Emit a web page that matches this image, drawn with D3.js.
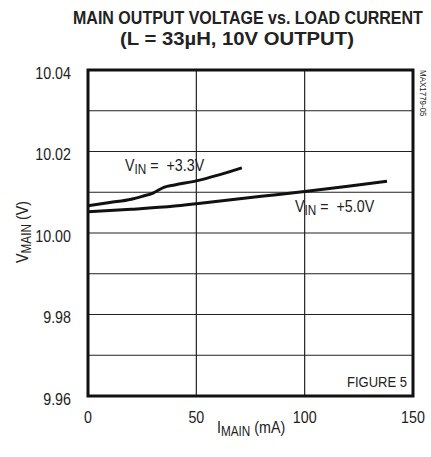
<!DOCTYPE html>
<html><head><meta charset="utf-8">
<script src="https://cdn.jsdelivr.net/npm/d3@7"></script>
<style>
body{margin:0;background:#fff;}
svg{display:block;}
text{font-family:"Liberation Sans",Arial,sans-serif;fill:#222;white-space:pre;}
</style></head><body>
<svg id="c" width="431" height="457"></svg>
<script>
const xTicks=[0,50,100,150];
const yTicks=[9.96,9.98,10.00,10.02,10.04];
const yGrid=[9.96,9.97,9.98,9.99,10.00,10.01,10.02,10.03,10.04];
const vin33I=[0,10,20,25,30,35,40,50,60,71];
const vin33V=[10.0067,10.0075,10.0083,10.009,10.0098,10.0112,10.0118,10.0128,10.0142,10.016];
const vin50I=[0,20,40,50,60,80,100,120,138];
const vin50V=[10.0052,10.0058,10.0066,10.0072,10.0078,10.009,10.0102,10.0115,10.0127];
const titleLines=["MAIN OUTPUT VOLTAGE vs. LOAD CURRENT","(L = 33µH, 10V OUTPUT)"];

const svg=d3.select("#c");
const L=88,R=413,T=70,B=396;
const SX=0.84;
const x=d3.scaleLinear().domain([0,150]).range([L,R]);
const y=d3.scaleLinear().domain([9.96,10.04]).range([B,T]);

function ct(px,py,size,anchor,rot){
  return svg.append("text")
    .attr("transform",`translate(${px},${py})`+(rot?` rotate(${rot})`:"")+` scale(${SX},1)`)
    .attr("font-size",size).attr("text-anchor",anchor||"start");
}

// grid
svg.append("g").selectAll("line").data(yGrid).join("line")
 .attr("x1",L).attr("x2",R).attr("y1",d=>y(d)).attr("y2",d=>y(d))
 .attr("stroke","#222").attr("stroke-width",1.2);
svg.append("g").selectAll("line").data(xTicks).join("line")
 .attr("y1",T).attr("y2",B).attr("x1",d=>x(d)).attr("x2",d=>x(d))
 .attr("stroke","#222").attr("stroke-width",1.2);
svg.append("rect").attr("x",L).attr("y",T).attr("width",R-L).attr("height",B-T)
 .attr("fill","none").attr("stroke","#111").attr("stroke-width",3);

// tick labels
yTicks.forEach(d=>ct(71,y(d)+8.5,17,"end").text(d.toFixed(2)));
xTicks.forEach(d=>ct(x(d),423,17,"middle").text(d));

// lines
const line=d3.line().x(d=>x(d[0])).y(d=>y(d[1])).curve(d3.curveMonotoneX);
svg.append("path").datum(vin33I.map((d,i)=>[d,vin33V[i]])).attr("d",line)
 .attr("fill","none").attr("stroke","#111").attr("stroke-width",3);
svg.append("path").datum(vin50I.map((d,i)=>[d,vin50V[i]])).attr("d",line)
 .attr("fill","none").attr("stroke","#111").attr("stroke-width",3);

function subLabel(t,main,sub,rest){
  t.append("tspan").text(main);
  t.append("tspan").attr("dy",3).attr("font-size",14).text(sub);
  t.append("tspan").attr("dy",-3).text(rest);
}
subLabel(ct(125,171,17),"V","IN"," =\u00a0\u00a0+3.3V");
subLabel(ct(295,212,17),"V","IN"," =\u00a0\u00a0+5.0V");

ct(407,387,15.5,"end").text("FIGURE 5");

// title, condensed to fixed widths
function fitTitle(txt,px,py,w){
  const t=svg.append("text").attr("font-size",18.5).attr("font-weight","bold").text(txt);
  const n=t.node().getComputedTextLength();
  t.attr("transform",`translate(${px},${py}) scale(${w/n},1)`);
}
fitTitle(titleLines[0],73,24,350);
fitTitle(titleLines[1],120,45,234);

// axis titles
subLabel(ct(217,433,17),"I","MAIN"," (mA)");
subLabel(ct(28,232,17,"middle",-90),"V","MAIN"," (V)");

ct(420,70,9.5,"start",90).text("MAX1779-05");
</script></body></html>
